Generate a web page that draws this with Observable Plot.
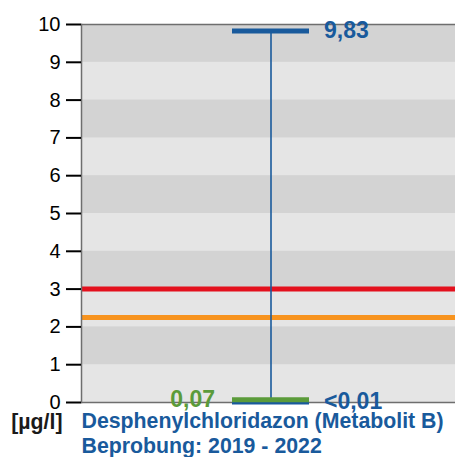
<!DOCTYPE html>
<html><head><meta charset="utf-8">
<script src="https://cdn.jsdelivr.net/npm/d3@7"></script>
<script src="https://cdn.jsdelivr.net/npm/@observablehq/plot@0.6"></script>
<style>body{margin:0;background:#fff;overflow:hidden} svg{display:block}</style>
</head><body><div id="chart"></div>
<script>
// ---- data ----
const substance = "Desphenylchloridazon (Metabolit B)";
const period = "Beprobung: 2019 - 2022";
const unit = "[µg/l]";
const yTicks = [0, 1, 2, 3, 4, 5, 6, 7, 8, 9, 10];
const statNames = ["max", "mean", "min"];
const statValues = [9.83, 0.07, 0.01];
const statLabels = ["9,83", "0,07", "<0,01"];
const thresholdValues = [2.25, 3];
const thresholdNames = ["Orientierungswert", "Grenzwert"];

// ---- styling ----
const BLUE = "#195a9c", GREEN = "#5b9b3a";
const thresholdColors = ["#f7931e", "#e3101d"];
const cat = substance;
const stats = statNames.map((n, i) => ({name: n, value: statValues[i], label: statLabels[i]}));
const S = Object.fromEntries(stats.map(d => [d.name, d]));
const bands = yTicks.slice(0, -1).map((t, i) => ({y1: t, y2: yTicks[i + 1], dark: i % 2 === 1}));
const thresholds = thresholdValues.map((v, i) => ({value: v, name: thresholdNames[i], color: thresholdColors[i]}));
const FONT = "'Liberation Sans', Arial, sans-serif";

const chart = Plot.plot({
  width: 455, height: 457,
  marginTop: 24, marginBottom: 55, marginLeft: 81, marginRight: 0,
  style: {fontFamily: FONT, fontSize: "20px", background: "#fff"},
  x: {type: "band", domain: [cat], padding: 0.66, align: 0.508, axis: null},
  y: {domain: [0, 10], axis: null},
  marks: [
    Plot.frame({fill: "#e5e5e5"}),
    Plot.rect(bands.filter(d => d.dark), {y1: "y1", y2: "y2", fill: "#d3d3d3"}),
    Plot.ruleY(thresholds, {y: "value", stroke: d => d.color, strokeWidth: 5}),
    Plot.ruleY([0, 10], {stroke: "#6e6e6e", strokeWidth: 1.5}),
    Plot.frame({anchor: "left", stroke: "#6e6e6e", strokeWidth: 1.5}),
    Plot.axisY({ticks: yTicks, tickSize: 15, tickPadding: 6, strokeWidth: 2, stroke: "#000", fill: "#000", fontSize: 20, label: null}),
    Plot.ruleX([S.min], {x: () => cat, y1: "value", y2: () => S.max.value, stroke: BLUE, strokeWidth: 1.6}),
    Plot.tickY([S.min], {x: () => cat, y: "value", stroke: BLUE, strokeWidth: 5}),
    Plot.tickY([S.mean], {x: () => cat, y: "value", stroke: GREEN, strokeWidth: 5}),
    Plot.tickY([S.max], {x: () => cat, y: "value", stroke: BLUE, strokeWidth: 5}),
    Plot.text([S.max, S.min], {x: () => cat, y: "value", text: "label", textAnchor: "start", dx: 53, fill: BLUE, fontWeight: "bold", fontSize: 23}),
    Plot.text([S.mean], {x: () => cat, y: "value", text: "label", textAnchor: "end", dx: -56, fill: GREEN, fontWeight: "bold", fontSize: 23}),
    Plot.text([unit], {frameAnchor: "bottom-left", text: d => d, textAnchor: "end", lineAnchor: "bottom", dx: -19, dy: 26, fill: "#1a1a1a", fontWeight: "bold", fontSize: 21.3}),
    Plot.text([substance + "\n" + period], {frameAnchor: "bottom-left", text: d => d, textAnchor: "start", lineAnchor: "bottom", dx: 0, dy: 50, lineHeight: 1.13, fill: BLUE, fontWeight: "bold", fontSize: 21.3})
  ]
});
document.getElementById("chart").appendChild(chart);
</script>
</body></html>
